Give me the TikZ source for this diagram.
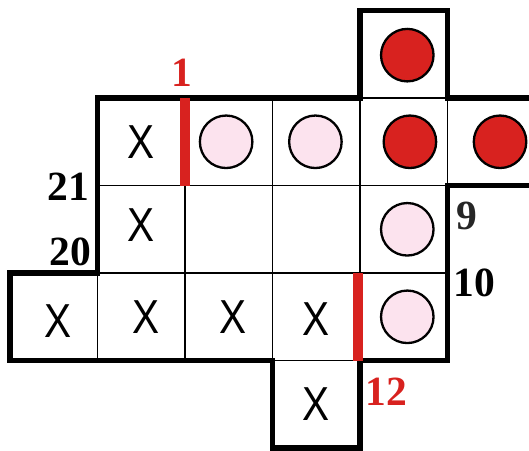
\documentclass[tikz,border=0pt]{standalone}
\usepackage{fontspec}
\setmainfont{Liberation Serif}
\newfontfamily\crossfont[FakeStretch=0.85]{Liberation Sans}
\usepackage{tikz}
\usepackage{xcolor}
\usetikzlibrary{positioning}
\definecolor{puzzlered}{RGB}{216,34,31}
\definecolor{pinkfill}{RGB}{252,227,238}
\tikzstyle{outline} = [line width=1.8pt, draw=black, line join=miter]
\tikzstyle{gridline} = [line width=0.55pt, draw=black]
\tikzstyle{redbar} = [line width=3.2pt, draw=puzzlered]
\tikzstyle{pinkdot} = [circle, 
minimum size=0.6cm, 
inner sep=0pt, 
fill=pinkfill, 
draw=black, line width=0.75pt]
\tikzstyle{reddot} = [circle, 
minimum size=0.6cm, 
inner sep=0pt, 
fill=puzzlered, 
draw=black, line width=0.75pt]
\tikzstyle{cross} = [inner sep=0pt, font=\crossfont\fontsize{15.5}{15.5}\selectfont]
\tikzstyle{num} = [inner sep=0pt, font=\bfseries\fontsize{13.5}{13.5}\selectfont]

\begin{document}
\begin{tikzpicture}[x=1cm, y=1cm]
        % Marco de la imagen
        \clip (-0.114,-0.023) rectangle (5.931,5.12);

        % Borde grueso de la figura
        \draw [outline] (0,1) -- (0,2) -- (1,2) -- (1,4) -- (4,4) -- (4,5) -- (5,5) -- (5,4)
            -- (6.5,4) -- (6.5,3) -- (5,3) -- (5,1) -- (4,1) -- (4,0) -- (3,0) -- (3,1) -- cycle;

        % Lineas interiores
        \draw [gridline] (2,1) -- (2,4);
        \draw [gridline] (3,1) -- (3,4);
        \draw [gridline] (4,1) -- (4,4);
        \draw [gridline] (1,1) -- (1,2);
        \draw [gridline] (5,3) -- (5,4);
        \draw [gridline] (1,3) -- (5,3);
        \draw [gridline] (1,2) -- (5,2);
        \draw [gridline] (4,4) -- (5,4);
        \draw [gridline] (3,1) -- (4,1);

        % Barras rojas
        \draw [redbar] (2,3) -- (2,4);
        \draw [redbar] (3.98,1) -- (3.98,2);

        % Cruces
        \node [cross] (x1) at (1.5,3.5) {X};
        \node [cross] (x2) at (1.5,2.55) {X};
        \node [cross] (x3) at (0.55,1.45) {X};
        \node [cross] (x4) at (1.55,1.5) {X};
        \node [cross] (x5) at (2.55,1.5) {X};
        \node [cross] (x6) at (3.5,1.47) {X};
        \node [cross] (x7) at (3.5,0.5) {X};

        % Circulos
        \node [pinkdot] (p1) at (2.47,3.5) {};
        \node [pinkdot] (p2) at (3.49,3.5) {};
        \node [pinkdot] (p3) at (4.54,2.5) {};
        \node [pinkdot] (p4) at (4.54,1.5) {};
        \node [reddot] (r1) at (4.54,4.49) {};
        \node [reddot] (r2) at (4.57,3.5) {};
        \node [reddot] (r3) at (5.6,3.5) {};

        % Numeros
        \node [num, text=puzzlered] (n1) at (1.97,4.29) {1};
        \node [num] (n21) at (0.67,2.99) {21};
        \node [num] (n20) at (0.69,2.24) {20};
        \node [num, text=black!85] (n9) at (5.22,2.65) {9};
        \node [num] (n10) at (5.31,1.89) {10};
        \node [num, text=puzzlered] (n12) at (4.30,0.64) {12};
    \end{tikzpicture}
\end{document}
